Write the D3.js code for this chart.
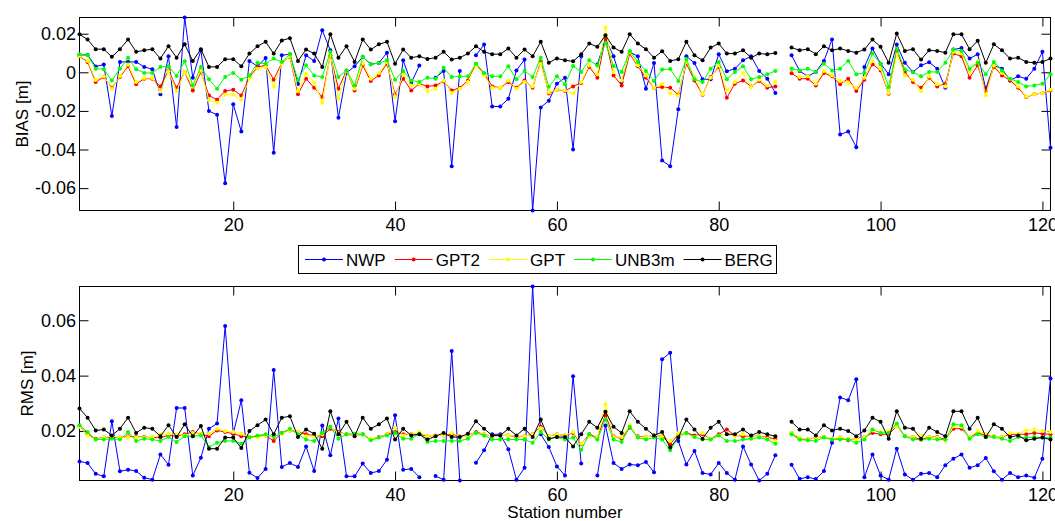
<!DOCTYPE html>
<html>
<head>
<meta charset="utf-8">
<script src="https://cdn.jsdelivr.net/npm/d3@7"></script>
<style>
body { margin: 0; background: #fff; }
text { font-family: "Liberation Sans", Arial, sans-serif; }
</style>
</head>
<body>
<svg id="chart" width="1055" height="521"></svg>
<script>
var stations = d3.range(1, 122);
var seriesNames = ["NWP", "GPT2", "GPT", "UNB3m", "BERG"];
var seriesColors = ["#0000ff", "#ff0000", "#ffff00", "#00ff00", "#000000"];
var xTicks = [20, 40, 60, 80, 100, 120];
var biasTicks = [-0.06, -0.04, -0.02, 0, 0.02];
var rmsTicks = [0.02, 0.04, 0.06];

// BIAS [m] per station
var biasNWP = [0.009, 0.009, 0.003, 0.004, -0.0227, 0.0054, 0.0054, 0.0054, 0.0028, 0.0016,
 -0.0114, 0.0083, -0.0284, 0.0284, -0.0028, 0.0114, -0.0201, -0.022, -0.0575, -0.0166,
 -0.0307, 0.0059, 0.0031, 0.0074, -0.0417, 0.0088, 0.0094, -0.006, 0.0088, 0.0059,
 0.0218, 0.0114, -0.0236, -0.0003, 0.0031, 0.008, 0.0042, 0.0048, 0.0102, -0.0253,
 0.0062, -0.0055, 0.0035, null, -0.0028, 0.0007, -0.0487, 0.0007, null, 0.0088,
 0.0144, -0.0177, -0.0177, -0.0137, 0.001, 0.0066, -0.0716, -0.0182, -0.0147, -0.0059,
 -0.0028, -0.04, 0.0083, null, 0.004, 0.0175, 0.0083, -0.005, 0.0106, 0.0083,
 -0.0085, 0.0048, -0.0457, -0.0487, -0.0192, 0.0083, 0.0048, -0.0036, -0.0036, 0.0094,
 0.0005, 0.0019, 0.0062, 0.0083, 0.0007, -0.0033, -0.0107, null, 0.0088, 0.0007,
 -0.0021, 0.0002, 0.0059, 0.017, -0.0322, -0.0307, -0.0388, 0.0028, 0.0123, 0.0045,
 -0.001, 0.0144, 0.0049, 0.0002, 0.0036, 0.0052, 0.0019, -0.008, 0.0118, 0.0126,
 0.0071, 0.0094, -0.0085, 0.0036, 0.0019, -0.0042, -0.0021, -0.0033, 0.0019, 0.0106,
 -0.0391];
var biasGPT2 = [0.0083, 0.0054, -0.005, -0.0024, -0.008, -0.0024, 0.0031, -0.0062, -0.0033, -0.0033,
 -0.0073, 0.001, -0.008, 0.0002, -0.0094, 0.0002, -0.012, -0.0142, -0.0097, -0.009,
 -0.012, -0.0024, 0.0028, 0.0036, -0.0038, 0.0049, 0.008, -0.0114, -0.0033, -0.008,
 -0.0128, 0.0088, -0.0085, 0.001, -0.0094, 0.0036, -0.0045, -0.0016, 0.0045, -0.0114,
 -0.0033, -0.0094, -0.0059, -0.0073, -0.0068, -0.0047, -0.0094, -0.008, -0.0042, 0.0042,
 -0.0007, -0.0073, -0.008, -0.005, -0.008, -0.0042, -0.008, 0.0057, -0.011, -0.009,
 -0.0097, -0.0073, -0.0055, 0.0028, -0.0028, 0.0175, -0.0016, -0.0068, 0.0097, 0.0031,
 -0.0028, -0.008, -0.0076, -0.008, -0.0116, 0.0045, -0.0042, -0.0116, -0.0024, 0.0028,
 -0.0132, -0.0059, -0.0042, -0.0073, -0.0045, -0.008, -0.0073, null, -0.0005, -0.0033,
 -0.0033, -0.0068, -0.0003, -0.0021, -0.0062, -0.0033, -0.0097, -0.0038, 0.0042, 0.001,
 -0.0111, 0.0114, 0.0002, -0.005, -0.008, -0.0028, -0.0073, -0.0059, 0.0097, 0.0083,
 -0.0028, 0.0036, -0.0097, 0.0028, -0.0016, -0.0042, -0.008, -0.0128, -0.0114, -0.0107,
 -0.0094];
var biasGPT = [0.0085, 0.006, -0.004, -0.002, -0.0085, -0.002, 0.004, -0.005, -0.003, -0.003,
 -0.01, 0.0005, -0.0097, 0.0002, -0.0073, 0.001, -0.0145, -0.0158, -0.0116, -0.0116,
 -0.0142, -0.0033, 0.0019, 0.0028, -0.0073, 0.0045, 0.0083, -0.0097, -0.0007, -0.0055,
 -0.0158, 0.0094, -0.0137, 0.0007, -0.0085, 0.0048, -0.0033, -0.0003, 0.0054, -0.0128,
 -0.001, -0.0068, -0.0059, -0.0097, -0.0085, -0.0042, -0.0107, -0.0085, -0.005, 0.0036,
 -0.0016, -0.008, -0.008, -0.0042, -0.0085, -0.005, -0.0073, 0.0045, -0.0105, -0.009,
 -0.0094, -0.011, -0.005, 0.0036, -0.001, 0.0232, 0.0002, -0.0042, 0.0106, 0.0036,
 -0.0016, -0.008, -0.0059, -0.011, -0.012, 0.0054, -0.0024, -0.0114, -0.0028, 0.0036,
 -0.0094, -0.005, -0.0003, -0.0076, -0.0038, -0.0068, -0.005, null, 0.0019, -0.0024,
 -0.002, -0.0059, 0.0007, -0.0016, -0.0045, -0.0055, -0.008, -0.0028, 0.0059, 0.0019,
 -0.0107, 0.0094, -0.0016, -0.0038, -0.0097, -0.0021, -0.0062, -0.0073, 0.0106, 0.0097,
 0.0002, 0.0059, -0.012, 0.0036, -0.0003, -0.0033, -0.0073, -0.0125, -0.0114, -0.0107,
 -0.009];
var biasUNB3m = [0.0094, 0.0088, 0.0019, 0.0016, -0.0042, 0.0019, 0.0076, 0.0016, -0.0003, -0.0003,
 0.0028, 0.0031, -0.0019, 0.0057, -0.0068, 0.0028, -0.0036, -0.0085, -0.0024, -0.0003,
 -0.0038, -0.0016, 0.0049, 0.0045, 0.0071, 0.0054, 0.0094, -0.004, 0.0036, -0.0016,
 -0.0024, 0.0106, -0.0024, 0.001, -0.0068, 0.008, 0.0042, 0.0048, 0.0062, -0.0038,
 0.0007, -0.0042, -0.005, -0.0028, -0.0033, 0.0023, -0.0024, -0.0021, -0.0021, 0.0045,
 -0.0003, -0.0021, -0.0021, 0.0031, -0.0036, 0.0007, -0.0024, 0.0076, -0.0075, -0.0021,
 -0.0062, 0.0033, 0.0002, 0.0062, 0.0035, 0.0152, 0.0033, 0.0002, 0.0111, 0.0054,
 0.0007, -0.0045, 0.0014, 0.0017, -0.0045, 0.0069, -0.0036, -0.005, 0.0019, 0.0054,
 -0.0036, 0.0002, 0.0031, -0.0036, -0.0024, -0.001, 0.0007, null, 0.0019, 0.001,
 0.0019, 0.0002, 0.0045, 0.001, 0.0019, 0.0059, -0.001, -0.0003, 0.0097, 0.0045,
 -0.0076, 0.0123, 0.0014, 0.0002, -0.0021, 0.0002, 0.0002, 0.0049, 0.0118, 0.0111,
 0.0019, 0.0049, -0.001, 0.0054, 0.001, -0.0033, -0.005, -0.0073, -0.0068, -0.0059,
 -0.001];
var biasBERG = [0.0197, 0.017, 0.012, 0.012, 0.008, 0.012, 0.017, 0.0106, 0.0114, 0.012,
 0.0071, 0.0135, 0.0076, 0.0145, 0.0059, 0.012, 0.0028, 0.0028, 0.0068, 0.0068,
 0.0031, 0.0097, 0.0135, 0.0158, 0.0097, 0.0165, 0.0177, 0.0059, 0.0118, 0.0097,
 0.0028, 0.0197, 0.0076, 0.0135, 0.0054, 0.017, 0.0118, 0.0145, 0.0158, 0.0045,
 0.0118, 0.0076, 0.0083, 0.0069, 0.0076, 0.0106, 0.0066, 0.0076, 0.0097, 0.0135,
 0.0106, 0.0094, 0.0094, 0.0123, 0.0076, 0.0118, 0.0083, 0.0158, 0.005, 0.0072,
 0.0062, 0.0057, 0.0094, 0.0149, 0.0132, 0.0192, 0.0128, 0.0106, 0.0197, 0.0149,
 0.012, 0.0076, 0.0109, 0.0059, 0.0068, 0.0158, 0.0088, 0.0062, 0.0128, 0.0149,
 0.0097, 0.0097, 0.0114, 0.0076, 0.0097, 0.0094, 0.01, null, 0.0128, 0.0114,
 0.012, 0.0094, 0.0135, 0.0114, 0.0123, 0.0111, 0.0102, 0.0118, 0.017, 0.0132,
 0.0049, 0.0201, 0.0111, 0.012, 0.0066, 0.0114, 0.0111, 0.0102, 0.0197, 0.0197,
 0.012, 0.0163, 0.0049, 0.0145, 0.0114, 0.0071, 0.0076, 0.0054, 0.0049, 0.0054,
 0.0071];

// RMS [m] per station
var rmsNWP = [0.009, 0.0084, 0.0045, 0.0036, 0.0235, 0.0054, 0.006, 0.0055, 0.0031, 0.0024,
 0.0115, 0.0078, 0.0283, 0.0283, 0.0039, 0.0103, 0.0208, 0.0227, 0.0579, 0.019,
 0.0311, 0.0049, 0.003, 0.0063, 0.042, 0.007, 0.0084, 0.007, 0.0144, 0.0055,
 0.022, 0.0112, 0.0245, 0.0036, 0.0036, 0.0082, 0.0048, 0.0055, 0.0096, 0.0257,
 0.006, 0.0063, 0.0033, null, 0.0037, 0.0024, 0.0489, 0.0021, null, 0.0085,
 0.013, 0.0188, 0.0188, 0.0134, 0.0024, 0.0067, 0.0722, 0.0188, 0.0142, 0.0072,
 0.0039, 0.0398, 0.0082, null, 0.0039, 0.022, 0.0084, 0.0063, 0.0079, 0.0076,
 0.0088, 0.0051, 0.0459, 0.0483, 0.0164, 0.0079, 0.0128, 0.0048, 0.0043, 0.0084,
 0.0048, 0.0024, 0.0144, 0.0079, 0.0021, 0.0045, 0.0112, null, 0.0078, 0.0027,
 0.0033, 0.0026, 0.0055, 0.0157, 0.0321, 0.0311, 0.0387, 0.0033, 0.0115, 0.0039,
 0.0024, 0.0136, 0.0043, 0.0024, 0.0045, 0.0048, 0.0033, 0.0076, 0.01, 0.0115,
 0.0067, 0.0076, 0.0102, 0.0054, 0.0024, 0.0048, 0.0033, 0.0039, 0.0031, 0.01,
 0.039];
var rmsGPT2 = [0.0217, 0.0188, 0.0172, 0.0176, 0.0178, 0.0176, 0.0181, 0.0178, 0.0178, 0.0176,
 0.0176, 0.0184, 0.0181, 0.0188, 0.0196, 0.0188, 0.0181, 0.0202, 0.0196, 0.019,
 0.0181, 0.0178, 0.0181, 0.0184, 0.0164, 0.0193, 0.0202, 0.0196, 0.0188, 0.0184,
 0.0181, 0.0208, 0.0196, 0.0188, 0.0184, 0.0188, 0.0169, 0.0178, 0.0188, 0.0196,
 0.0188, 0.0188, 0.0188, 0.0181, 0.0184, 0.0184, 0.0188, 0.0181, 0.0184, 0.0196,
 0.0188, 0.0181, 0.0184, 0.0184, 0.0178, 0.0181, 0.0188, 0.0215, 0.0181, 0.0188,
 0.0184, 0.0193, 0.0152, 0.0188, 0.0176, 0.0257, 0.0181, 0.0172, 0.0212, 0.0181,
 0.0178, 0.0184, 0.0181, 0.0152, 0.0188, 0.0193, 0.0184, 0.0188, 0.0172, 0.0188,
 0.0205, 0.0184, 0.0181, 0.0181, 0.0181, 0.0176, 0.0172, null, 0.0193, 0.0172,
 0.0169, 0.0176, 0.0178, 0.0169, 0.0176, 0.0166, 0.0172, 0.0178, 0.0193, 0.0188,
 0.0188, 0.0217, 0.0181, 0.0178, 0.0169, 0.0178, 0.0178, 0.0169, 0.0208, 0.0208,
 0.0178, 0.0193, 0.0184, 0.0181, 0.0178, 0.0188, 0.0188, 0.0188, 0.0193, 0.019,
 0.0188];
var rmsGPT = [0.0215, 0.0184, 0.0169, 0.0176, 0.0181, 0.0176, 0.0178, 0.0176, 0.0176, 0.0178,
 0.0188, 0.019, 0.0188, 0.0184, 0.0193, 0.0188, 0.019, 0.0208, 0.02, 0.0196,
 0.019, 0.0178, 0.0176, 0.0184, 0.0181, 0.019, 0.0202, 0.0196, 0.0181, 0.0181,
 0.0188, 0.0215, 0.0193, 0.0188, 0.0184, 0.0188, 0.0172, 0.0176, 0.0188, 0.0212,
 0.0184, 0.0188, 0.0196, 0.0181, 0.0184, 0.0184, 0.0193, 0.0181, 0.0184, 0.0193,
 0.0188, 0.0181, 0.0184, 0.0184, 0.0181, 0.0181, 0.0188, 0.021, 0.0181, 0.0188,
 0.0184, 0.0196, 0.0154, 0.0181, 0.0176, 0.0297, 0.0178, 0.0178, 0.0221, 0.0178,
 0.0178, 0.0184, 0.0181, 0.0164, 0.0193, 0.019, 0.0178, 0.0193, 0.0172, 0.0184,
 0.0188, 0.0181, 0.0188, 0.0178, 0.0181, 0.0172, 0.0164, null, 0.0193, 0.0176,
 0.0169, 0.0176, 0.0178, 0.0172, 0.0176, 0.0172, 0.0169, 0.0178, 0.0202, 0.0196,
 0.02, 0.0217, 0.0181, 0.0178, 0.0184, 0.0178, 0.0176, 0.0164, 0.0217, 0.0215,
 0.0178, 0.02, 0.019, 0.0181, 0.0178, 0.0193, 0.019, 0.0202, 0.0205, 0.02,
 0.0196];
var rmsUNB3m = [0.0221, 0.0196, 0.0169, 0.0169, 0.0172, 0.0169, 0.0196, 0.0164, 0.0172, 0.0169,
 0.0164, 0.0178, 0.016, 0.0181, 0.0181, 0.0184, 0.0142, 0.0157, 0.0164, 0.0164,
 0.0154, 0.0176, 0.0184, 0.0188, 0.0178, 0.0193, 0.0208, 0.0188, 0.0169, 0.0164,
 0.0193, 0.0215, 0.0172, 0.0188, 0.019, 0.0188, 0.0166, 0.0176, 0.0184, 0.0193,
 0.0172, 0.0172, 0.019, 0.016, 0.0164, 0.0164, 0.0164, 0.0164, 0.0172, 0.0193,
 0.0184, 0.0169, 0.0169, 0.0169, 0.0169, 0.0169, 0.0157, 0.0196, 0.0169, 0.0178,
 0.0169, 0.0176, 0.0132, 0.0188, 0.0169, 0.0241, 0.0169, 0.016, 0.0215, 0.0176,
 0.0169, 0.0176, 0.0169, 0.013, 0.0178, 0.0193, 0.0178, 0.0169, 0.0169, 0.0184,
 0.0164, 0.0164, 0.0169, 0.0172, 0.0176, 0.0169, 0.0154, null, 0.0188, 0.0169,
 0.0166, 0.0164, 0.0176, 0.0169, 0.0169, 0.0169, 0.0157, 0.0169, 0.0205, 0.0193,
 0.0193, 0.0227, 0.0181, 0.0169, 0.0169, 0.0172, 0.0169, 0.0169, 0.0224, 0.0221,
 0.0172, 0.0188, 0.0178, 0.0178, 0.0172, 0.0164, 0.0178, 0.0176, 0.0178, 0.0176,
 0.0176];
var rmsBERG = [0.0281, 0.0248, 0.0202, 0.0205, 0.0184, 0.0208, 0.0248, 0.0193, 0.0212, 0.0208,
 0.0181, 0.0221, 0.0178, 0.0224, 0.0181, 0.0218, 0.0136, 0.0136, 0.0176, 0.0176,
 0.0138, 0.02, 0.0221, 0.0241, 0.0188, 0.0248, 0.0253, 0.0178, 0.0205, 0.019,
 0.0136, 0.0271, 0.0188, 0.0233, 0.0181, 0.0248, 0.0208, 0.0224, 0.0245, 0.0169,
 0.0208, 0.0184, 0.0188, 0.0169, 0.0181, 0.0193, 0.0178, 0.0178, 0.019, 0.0235,
 0.0208, 0.0184, 0.0184, 0.0208, 0.0184, 0.0208, 0.0178, 0.0241, 0.0172, 0.0178,
 0.0178, 0.0144, 0.0188, 0.0233, 0.0212, 0.0269, 0.0215, 0.0193, 0.0271, 0.0233,
 0.0208, 0.0184, 0.0196, 0.014, 0.0176, 0.0241, 0.0205, 0.0172, 0.0212, 0.0233,
 0.0188, 0.0188, 0.0205, 0.0184, 0.0196, 0.0188, 0.0181, null, 0.0233, 0.0205,
 0.0205, 0.0184, 0.0221, 0.0202, 0.0208, 0.02, 0.0181, 0.0202, 0.0248, 0.0233,
 0.0172, 0.0271, 0.0212, 0.0208, 0.0172, 0.0212, 0.0196, 0.0181, 0.0271, 0.0271,
 0.0208, 0.0248, 0.0178, 0.0224, 0.0208, 0.0178, 0.0184, 0.0166, 0.0172, 0.0176,
 0.0169];

var LEFT = 79.5, RIGHT = 1050.5, TICK = 9;
var TICK_FONT = "18px", LABEL_FONT = "17px";

var svg = d3.select("#chart");

var scaleX = d3.scaleLinear()
    .domain(d3.extent(stations))
    .range([LEFT, RIGHT]);

function fmt(d) { return String(+d.toFixed(2)); }

function style_axis(g) {
    g.select(".domain").remove();
    g.selectAll("line").attr("stroke", "#000");
    g.selectAll("text")
        .attr("fill", "#000")
        .style("font-family", "'Liberation Sans', Arial, sans-serif")
        .style("font-size", TICK_FONT);
}

function draw_panel(series, yTicks, top, bottom, title, titleX) {
    var all = d3.merge(series).filter(function(v) { return v != null; });
    var scaleY = d3.scaleLinear()
        .domain(d3.extent(all))
        .range([bottom, top]);

    var g = svg.append("g");

    g.append("g")
        .attr("transform", "translate(0," + bottom + ")")
        .call(d3.axisBottom(scaleX).tickValues(xTicks).tickSize(-TICK).tickSizeOuter(0).tickPadding(7.5))
        .call(style_axis);
    g.append("g")
        .attr("transform", "translate(0," + top + ")")
        .call(d3.axisTop(scaleX).tickValues(xTicks).tickSize(-TICK).tickSizeOuter(0).tickFormat(""))
        .call(style_axis);
    g.append("g")
        .attr("transform", "translate(" + LEFT + ",0)")
        .call(d3.axisLeft(scaleY).tickValues(yTicks).tickSize(-TICK).tickSizeOuter(0).tickPadding(3.5).tickFormat(fmt))
        .call(style_axis);
    g.append("g")
        .attr("transform", "translate(" + RIGHT + ",0)")
        .call(d3.axisRight(scaleY).tickValues(yTicks).tickSize(-TICK).tickSizeOuter(0).tickFormat(""))
        .call(style_axis);

    g.append("rect")
        .attr("x", LEFT)
        .attr("y", top)
        .attr("width", RIGHT - LEFT)
        .attr("height", bottom - top)
        .attr("fill", "none")
        .attr("stroke", "#000");

    g.append("text")
        .attr("transform", "translate(" + titleX + "," + ((top + bottom) / 2) + ") rotate(-90)")
        .attr("text-anchor", "middle")
        .style("font-size", LABEL_FONT)
        .text(title);

    var line = d3.line()
        .defined(function(d) { return d.v != null; })
        .x(function(d) { return scaleX(d.s); })
        .y(function(d) { return scaleY(d.v); });

    series.forEach(function(vals, k) {
        var pts = stations.map(function(s, i) { return { s: s, v: vals[i] }; });
        g.append("path")
            .datum(pts)
            .attr("fill", "none")
            .attr("stroke", seriesColors[k])
            .attr("stroke-width", 1)
            .attr("d", line);
        g.selectAll(".m" + k)
            .data(pts.filter(function(d) { return d.v != null; }))
            .enter()
            .append("circle")
            .attr("class", "m" + k)
            .attr("cx", function(d) { return scaleX(d.s); })
            .attr("cy", function(d) { return scaleY(d.v); })
            .attr("r", 2)
            .attr("fill", seriesColors[k]);
    });
}

draw_panel([biasNWP, biasGPT2, biasGPT, biasUNB3m, biasBERG], biasTicks, 17.5, 210.5, "BIAS [m]", 27.5);
draw_panel([rmsNWP, rmsGPT2, rmsGPT, rmsUNB3m, rmsBERG], rmsTicks, 286.5, 480.5, "RMS [m]", 33);

svg.append("text")
    .attr("x", (LEFT + RIGHT) / 2)
    .attr("y", 518)
    .attr("text-anchor", "middle")
    .style("font-size", LABEL_FONT)
    .text("Station number");

// legend
var legend = svg.append("g");
legend.append("rect")
    .attr("x", 298.5)
    .attr("y", 245.5)
    .attr("width", 478)
    .attr("height", 28)
    .attr("fill", "#fff")
    .attr("stroke", "#000");

var lx = 305, ly = 259.5;
seriesNames.forEach(function(name, k) {
    legend.append("line")
        .attr("x1", lx).attr("x2", lx + 38)
        .attr("y1", ly).attr("y2", ly)
        .attr("stroke", seriesColors[k]);
    legend.append("circle")
        .attr("cx", lx + 19).attr("cy", ly)
        .attr("r", 2)
        .attr("fill", seriesColors[k]);
    var t = legend.append("text")
        .attr("x", lx + 41)
        .attr("y", ly + 6)
        .style("font-size", LABEL_FONT)
        .text(name);
    lx += 41 + t.node().getComputedTextLength() + 9;
});
</script>
</body>
</html>
